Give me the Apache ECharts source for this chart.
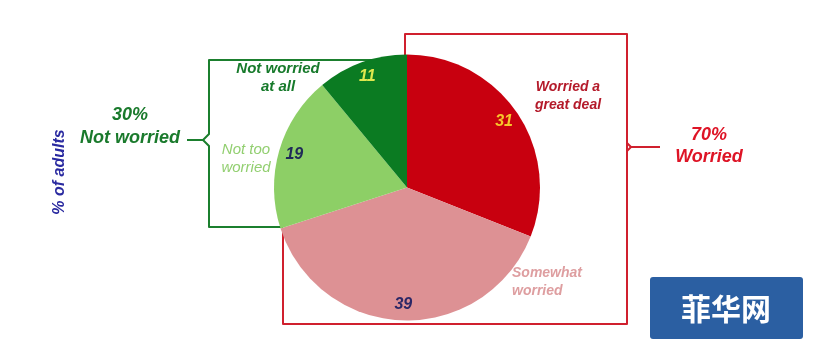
<!DOCTYPE html>
<html>
<head>
<meta charset="utf-8">
<script src="https://cdn.jsdelivr.net/npm/echarts@6/dist/echarts.min.js"></script>
<style>html,body{margin:0;padding:0;background:#fff;}#c{width:815px;height:357px;}</style>
</head>
<body>
<div id="c"></div>
<script>
var categories = ['Worried a great deal', 'Somewhat worried', 'Not too worried', 'Not worried at all'];
var categoryLines = [['Worried a', 'great deal'], ['Somewhat', 'worried'], ['Not too', 'worried'], ['Not worried', 'at all']];
var values = [31, 39, 19, 11];
var groupLabels = ['70%\nWorried', '30%\nNot worried'];
var axisTitle = '% of adults';
var watermark = '菲华网';

var sliceColors = ['#c8000f', '#dd9194', '#8dcf66', '#0b7b22'];
var valueColors = ['#f7c52a', '#2b2766', '#202a58', '#dfe84e'];
var nameColors = ['#b41a2a', '#de9ea0', '#92cf70', '#177a2b'];
var FONT = '"Liberation Sans", Arial, sans-serif';

var cx = 407, cy = 187.5, R = 133;

var chart = echarts.init(document.getElementById('c'), null, {renderer: 'canvas'});

var mainData = values.map(function (v, i) {
  return {name: categories[i], value: v, itemStyle: {color: sliceColors[i]}};
});
var labelData = values.map(function (v, i) {
  return {name: categories[i], value: v, label: {color: valueColors[i]}};
});

var namePos = [
  {x: 568, y: 96, align: 'center'},
  {x: 512, y: 282, align: 'left'},
  {x: 246, y: 159, align: 'center'},
  {x: 278, y: 78, align: 'center'}
];
var nameWeight = ['bold', 'bold', 'normal', 'bold'];
var nameSize = [14, 14, 15, 15];

function line(points, color) {
  return {
    type: 'polyline', z: 0, silent: true,
    shape: {points: points},
    style: {fill: null, stroke: color, lineWidth: 2, lineJoin: 'round'}
  };
}

var graphics = [
  line([[405, 60], [405, 34], [627, 34], [627, 324], [283, 324], [283, 228]], '#d0202e'),
  line([[627, 143], [631, 147], [660, 147]], '#d0202e'),
  line([[627, 151], [631, 147]], '#d0202e'),
  line([[405, 60], [209, 60], [209, 134], [203, 140], [187, 140]], '#1b7f2e'),
  line([[203, 140], [209, 146], [209, 227], [283, 227]], '#1b7f2e'),
  {
    type: 'text', z: 100, silent: true, x: 709, y: 146,
    style: {text: groupLabels[0], fill: '#de1426', font: 'italic bold 18px ' + FONT, align: 'center', verticalAlign: 'middle', lineHeight: 22}
  },
  {
    type: 'text', z: 100, silent: true, x: 130, y: 127,
    style: {text: groupLabels[1], fill: '#1a7a2c', font: 'italic bold 18px ' + FONT, align: 'center', verticalAlign: 'middle', lineHeight: 23}
  },
  {
    type: 'text', z: 100, silent: true, x: 60, y: 172, rotation: Math.PI / 2,
    style: {text: axisTitle, fill: '#2a2aa0', font: 'italic bold 16px ' + FONT, align: 'center', verticalAlign: 'middle'}
  },
  {
    type: 'rect', z: 100, silent: true,
    shape: {x: 650, y: 277, width: 153, height: 62, r: 3},
    style: {fill: '#2b5fa2'}
  },
  {
    type: 'text', z: 101, silent: true, x: 726, y: 309,
    style: {text: watermark, fill: '#ffffff', font: 'bold 30px "Noto Sans CJK SC", sans-serif', align: 'center', verticalAlign: 'middle'}
  }
];

categoryLines.forEach(function (lines, i) {
  graphics.push({
    type: 'text', z: 100, silent: true, x: namePos[i].x, y: namePos[i].y,
    style: {
      text: lines.join('\n'), fill: nameColors[i],
      font: 'italic ' + nameWeight[i] + ' ' + nameSize[i] + 'px ' + FONT,
      align: namePos[i].align, verticalAlign: 'middle', lineHeight: 18
    }
  });
});

chart.setOption({
  animation: false,
  backgroundColor: '#ffffff',
  graphic: graphics,
  series: [
    {
      type: 'pie', z: 2, silent: true,
      center: [cx, cy], radius: [0, R],
      startAngle: 90, clockwise: true,
      label: {show: false}, labelLine: {show: false},
      data: mainData
    },
    {
      type: 'pie', z: 3, silent: true,
      center: [cx, cy], radius: [R * 0.72, R],
      startAngle: 90, clockwise: true,
      itemStyle: {color: 'rgba(0,0,0,0)'},
      label: {show: true, position: 'inside', fontFamily: FONT, fontSize: 16, fontWeight: 'bold', fontStyle: 'italic', formatter: '{c}'},
      labelLine: {show: false},
      emphasis: {disabled: true},
      data: labelData
    }
  ]
});
</script>
</body>
</html>
